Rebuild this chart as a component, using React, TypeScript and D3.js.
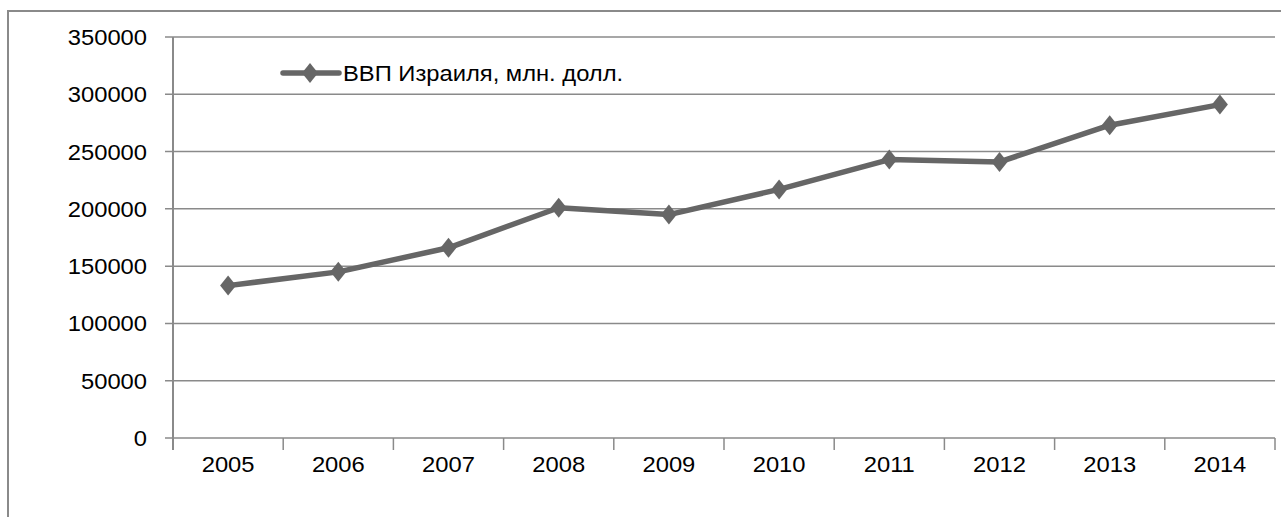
import { useEffect, useRef } from 'react';
import * as d3 from 'd3';

const years = ['2005', '2006', '2007', '2008', '2009', '2010', '2011', '2012', '2013', '2014'];
const gdp = [133000, 145000, 166000, 201000, 195000, 217000, 243000, 241000, 273000, 291000];
const yTicks = [0, 50000, 100000, 150000, 200000, 250000, 300000, 350000];
const seriesName = 'ВВП Израиля, млн. долл.';

const W = 1281;
const H = 517;
const FONT = '"Liberation Sans", Arial, sans-serif';
const FS = 22;
const SX = 1.08;
const GRID = '#8a8a8a';
const LINE = '#666666';

export default function App() {
  const svgRef = useRef<SVGSVGElement>(null);

  useEffect(() => {
    const svg = d3.select(svgRef.current);
    if (!svg.node()) return;
    svg.selectAll('*').remove();

    const plot = { left: 173, right: 1275, top: 37, bottom: 438 };

    const x = d3.scaleBand().domain(years).range([plot.left, plot.right]);
    const y = d3.scaleLinear().domain([0, 350000]).range([plot.bottom, plot.top]);

    // outer chart frame, cut off at right and bottom
    svg.append('path')
      .attr('d', `M8,${H} L8,11 L${W},11`)
      .attr('fill', 'none')
      .attr('stroke', GRID)
      .attr('stroke-width', 2);

    // gridlines + y ticks
    svg.append('g')
      .selectAll('line')
      .data(yTicks)
      .join('line')
      .attr('x1', plot.left - 8)
      .attr('x2', plot.right)
      .attr('y1', (d) => y(d))
      .attr('y2', (d) => y(d))
      .attr('stroke', GRID)
      .attr('stroke-width', 1.5);

    svg.append('line')
      .attr('x1', plot.left).attr('x2', plot.left)
      .attr('y1', plot.top).attr('y2', plot.bottom + 12)
      .attr('stroke', GRID).attr('stroke-width', 2);

    // x ticks sit on category boundaries
    const bounds = years.map((d) => x(d)!).concat([plot.right]);
    svg.append('g')
      .selectAll('line')
      .data(bounds.slice(1))
      .join('line')
      .attr('x1', (d) => d).attr('x2', (d) => d)
      .attr('y1', plot.bottom).attr('y2', plot.bottom + 12)
      .attr('stroke', GRID).attr('stroke-width', 1.5);

    svg.append('g')
      .selectAll('text')
      .data(yTicks)
      .join('text')
      .attr('transform', (d) => `translate(147,${y(d) + 8}) scale(${SX},1)`)
      .attr('text-anchor', 'end')
      .attr('font-family', FONT)
      .attr('font-size', FS)
      .attr('fill', '#000')
      .text((d) => String(d));

    svg.append('g')
      .selectAll('text')
      .data(years)
      .join('text')
      .attr('transform', (d) => `translate(${x(d)! + x.bandwidth() / 2},472) scale(${SX},1)`)
      .attr('text-anchor', 'middle')
      .attr('font-family', FONT)
      .attr('font-size', FS)
      .attr('fill', '#000')
      .text((d) => d);

    const cx = (i: number) => x(years[i])! + x.bandwidth() / 2;
    const line = d3.line<number>()
      .x((_d, i) => cx(i))
      .y((d) => y(d));

    svg.append('path')
      .datum(gdp)
      .attr('d', line)
      .attr('fill', 'none')
      .attr('stroke', LINE)
      .attr('stroke-width', 5.5)
      .attr('stroke-linejoin', 'round');

    const diamond = 'M0,-10 L8,0 L0,10 L-8,0 Z';
    svg.append('g')
      .selectAll('path')
      .data(gdp)
      .join('path')
      .attr('transform', (d, i) => `translate(${cx(i)},${y(d)})`)
      .attr('d', diamond)
      .attr('fill', LINE);

    // legend
    const lg = svg.append('g').attr('transform', 'translate(283,73)');
    lg.append('line')
      .attr('x1', 0).attr('x2', 56)
      .attr('stroke', LINE).attr('stroke-width', 5.5)
      .attr('stroke-linecap', 'round');
    lg.append('path').attr('transform', 'translate(27,0)').attr('d', diamond).attr('fill', LINE);
    lg.append('text')
      .attr('transform', `translate(60,8) scale(${SX},1)`)
      .attr('font-family', FONT)
      .attr('font-size', FS)
      .attr('fill', '#000')
      .text(seriesName);
  }, []);

  return (
    <svg
      ref={svgRef}
      width={W}
      height={H}
      style={{ position: 'absolute', left: 0, top: 0, background: '#fff' }}
    />
  );
}
